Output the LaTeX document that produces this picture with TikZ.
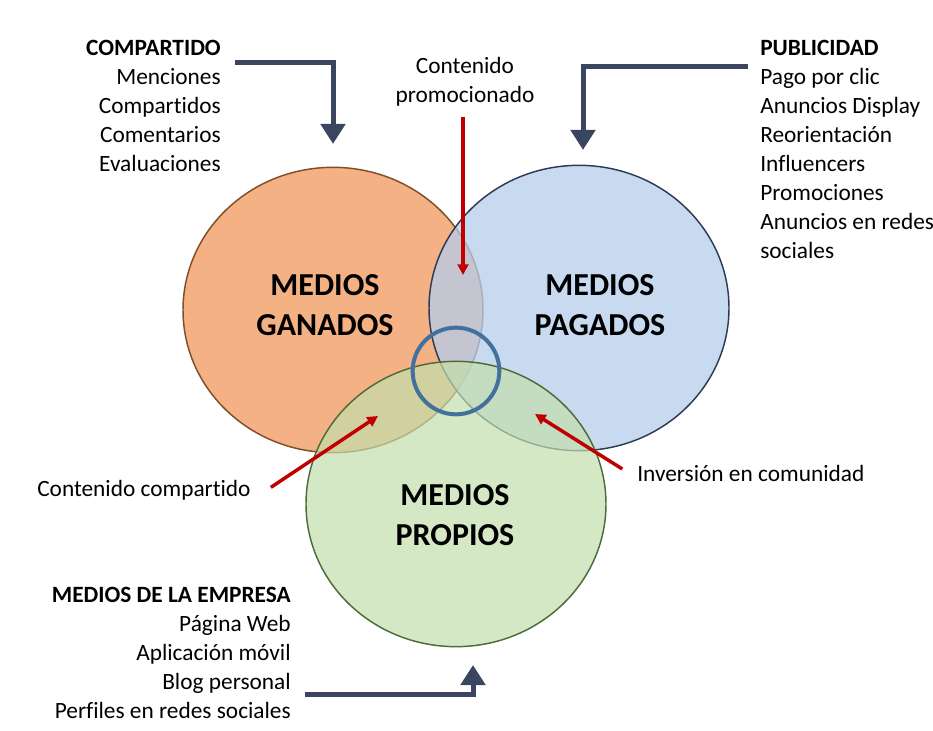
\documentclass[tikz,border=0pt]{standalone}
\usepackage{fontspec}
\setmainfont{Carlito}[RawFeature={-liga;-clig;-calt;-dlig}]
\usetikzlibrary{arrows.meta,shapes.geometric}
\definecolor{ganado-fill}{HTML}{F4B183}
\definecolor{ganado-line}{HTML}{7F4F2A}
\definecolor{pagado-fill}{HTML}{B5CDEB}
\definecolor{pagado-line}{HTML}{2E3B55}
\definecolor{propio-fill}{HTML}{C3DEAC}
\definecolor{propio-line}{HTML}{4F6B3A}
\definecolor{ring-blue}{HTML}{41719C}
\definecolor{arrow-dark}{HTML}{3A4660}
\definecolor{arrow-red}{HTML}{C00000}
\tikzset{
    venn-set/.style = {ellipse, draw, line width=1.1pt, minimum width=225pt, minimum height=214pt, inner sep=0pt},
    set-title/.style = {font=\fontsize{24}{30}\selectfont\bfseries, align=center, inner sep=0pt},
    side-list/.style = {font=\fontsize{17.5}{21.75}\selectfont, inner sep=0pt},
    big-arrow/.style = {draw=arrow-dark, line width=3.75pt, -{Triangle[width=18pt,length=15pt]}},
    red-arrow/.style = {draw=arrow-red, line width=2.6pt, -{Triangle[width=8pt,length=8pt]}},
}

\begin{document}
\begin{tikzpicture}[x=0.75pt,y=-0.75pt]
\useasboundingbox (0,0) rectangle (933,731);

% the three sets
\node [venn-set, draw=ganado-line, fill=ganado-fill] (ganados) at (333,310) {};
\node [venn-set, draw=pagado-line, fill=pagado-fill, fill opacity=0.75] (pagados) at (579,308) {};
\node [venn-set, draw=propio-line, fill=propio-fill, fill opacity=0.7] (propios) at (456,504) {};
\node [circle, draw=ring-blue, line width=3pt, minimum size=65pt, inner sep=0pt] (ring) at (456,371) {};

\node [set-title] (t-ganados) at (325,305) {MEDIOS\\GANADOS};
\node [set-title] (t-pagados) at (600,305) {MEDIOS\\PAGADOS};
\node [set-title] (t-propios) at (455,515) {MEDIOS\\PROPIOS};

% lists
\node [side-list, align=right, anchor=east] (compartido) at (221,105.5) {\textbf{COMPARTIDO}\\Menciones\\Compartidos\\Comentarios\\Evaluaciones};
\node [side-list, align=left, anchor=west] (publicidad) at (760,149) {\textbf{PUBLICIDAD}\\Pago por clic\\Anuncios Display\\Reorientación\\Influencers\\Promociones\\Anuncios en redes\\sociales};
\node [side-list, align=right, anchor=east] (empresa) at (291,652.5) {\textbf{MEDIOS DE LA EMPRESA}\\Página Web\\Aplicación móvil\\Blog personal\\Perfiles en redes sociales};

\node [side-list, align=center] (promo) at (465,82) {Contenido\\promocionado};
\node [side-list, anchor=west] (cc) at (37,490) {Contenido compartido};
\node [side-list, anchor=west] (inv) at (637,473) {Inversión en comunidad};

% dark arrows
\coordinate (g-start) at (235,63);
\coordinate (p-start) at (748,67);
\coordinate (e-start) at (305,694);
\coordinate (e-tip) at (473,665);
\draw [big-arrow, shorten >=17pt] (g-start) -| (ganados.north);
\draw [big-arrow, shorten >=11pt] (p-start) -| ([xshift=3pt]pagados.north);
\draw [big-arrow] (e-start) -| (e-tip);

% red arrows
\coordinate (promo-tip) at (463,275);
\coordinate (cc-tip) at (378,416);
\coordinate (inv-tip) at (535,414);
\draw [red-arrow] ([yshift=-8pt]promo.south -| promo-tip) -- (promo-tip);
\draw [red-arrow] ([shift={(15pt,2pt)}]cc.east) -- (cc-tip);
\draw [red-arrow] ([shift={(-11pt,3pt)}]inv.west) -- (inv-tip);
\end{tikzpicture}
\end{document}
